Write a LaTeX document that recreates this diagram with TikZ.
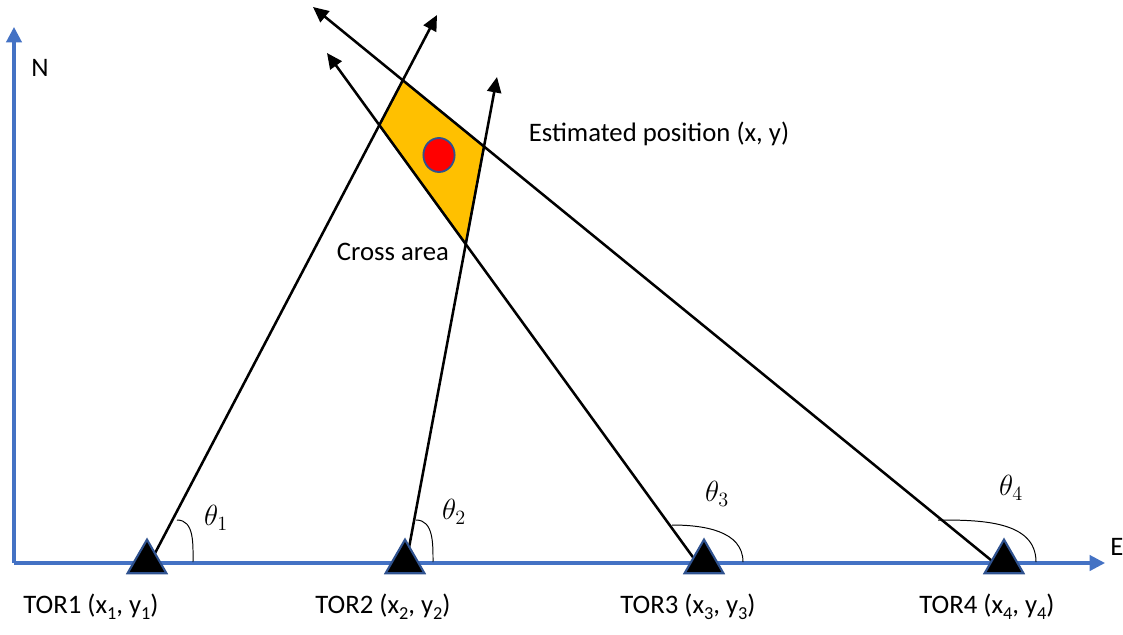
\documentclass[tikz,border=0pt]{standalone}
\usepackage{fontspec}
\setmainfont{Carlito}
\usetikzlibrary{arrows.meta,shapes.geometric}

\definecolor{axisblue}{HTML}{4472C4}
\definecolor{edgeblue}{HTML}{2F528F}
\definecolor{crossfill}{HTML}{FFC000}

\newcommand{\lowsub}[1]{\raisebox{-0.45ex}{\fontsize{13}{15}\selectfont #1}}

\tikzset{
  axis/.style={axisblue,line width=2.2pt,-{Triangle[length=11pt,width=11pt]}},
  bearing/.style={black,line width=1.8pt,-{Triangle[length=11pt,width=10pt]}},
  tor/.style={regular polygon,regular polygon sides=3,minimum size=1.12cm,
    inner sep=0pt,fill=black,draw=edgeblue,line width=1.5pt},
  anglemark/.style={black,line width=0.7pt},
  lbl/.style={font=\fontsize{19}{23}\selectfont,inner sep=0pt},
  anglelbl/.style={font=\fontsize{22}{26}\selectfont,inner sep=0pt}
}

\begin{document}
\begin{tikzpicture}[x=0.025cm,y=-0.025cm]

\useasboundingbox (0,0) rectangle (1123,634);

% Axes
\coordinate (O) at (14,563);
\coordinate (Ntip) at (14,27);
\coordinate (Etip) at (1105,563);
\draw[axis] (O) -- (Ntip);
\draw[axis] (O) -- (Etip);
\node[lbl] (N) at (40,68) {N};
\node[lbl] (E) at (1117,547) {E};

% Bearing lines (start points and tips)
\coordinate (s1) at (153,557);
\coordinate (s2) at (408,553);
\coordinate (s3) at (695,560);
\coordinate (s4) at (997,565);
\coordinate (t1) at (437,15);
\coordinate (t2) at (497,77);
\coordinate (t3) at (327,53);
\coordinate (t4) at (313,7);

% Cross area
\coordinate (c14) at (intersection of s1--t1 and s4--t4);
\coordinate (c13) at (intersection of s1--t1 and s3--t3);
\coordinate (c23) at (intersection of s2--t2 and s3--t3);
\coordinate (c24) at (intersection of s2--t2 and s4--t4);
\filldraw[fill=crossfill,draw=edgeblue,line width=1.3pt]
  (c14) -- (c13) -- (c23) -- (c24) -- cycle;

\draw[bearing] (s1) -- (t1);
\draw[bearing] (s2) -- (t2);
\draw[bearing] (s3) -- (t3);
\draw[bearing] (s4) -- (t4);

% Estimated position
\node[ellipse,fill=red,draw=edgeblue,line width=1.3pt,
  minimum width=0.78cm,minimum height=0.85cm,inner sep=0pt] (est) at (439,155) {};
\node[lbl] (estlbl) at (659,134) {Estimated position (x, y)};
\node[lbl] (cross) at (393,252) {Cross area};

% Angles
\draw[anglemark] (177,520) to[out=0,in=90] (193,562);
\draw[anglemark] (416,520) to[out=0,in=90] (433,562);
\draw[anglemark] (672,525) to[out=0,in=90] (743,562);
\draw[anglemark] (938,520) to[out=0,in=90] (1036,562);
\node[anglelbl] (th1) at (216,518) {$\theta_1$};
\node[anglelbl] (th2) at (454,512) {$\theta_2$};
\node[anglelbl] (th3) at (717,494) {$\theta_3$};
\node[anglelbl] (th4) at (1011,488) {$\theta_4$};

% Receivers
\node[tor] (tor1) at (147,562) {};
\node[tor] (tor2) at (405,562) {};
\node[tor] (tor3) at (704,562) {};
\node[tor] (tor4) at (1004,562) {};
\node[lbl] (lab1) at (91,607) {TOR1 (x\lowsub{1}, y\lowsub{1})};
\node[lbl] (lab2) at (383,607) {TOR2 (x\lowsub{2}, y\lowsub{2})};
\node[lbl] (lab3) at (688,607) {TOR3 (x\lowsub{3}, y\lowsub{3})};
\node[lbl] (lab4) at (987,607) {TOR4 (x\lowsub{4}, y\lowsub{4})};

\end{tikzpicture}
\end{document}
